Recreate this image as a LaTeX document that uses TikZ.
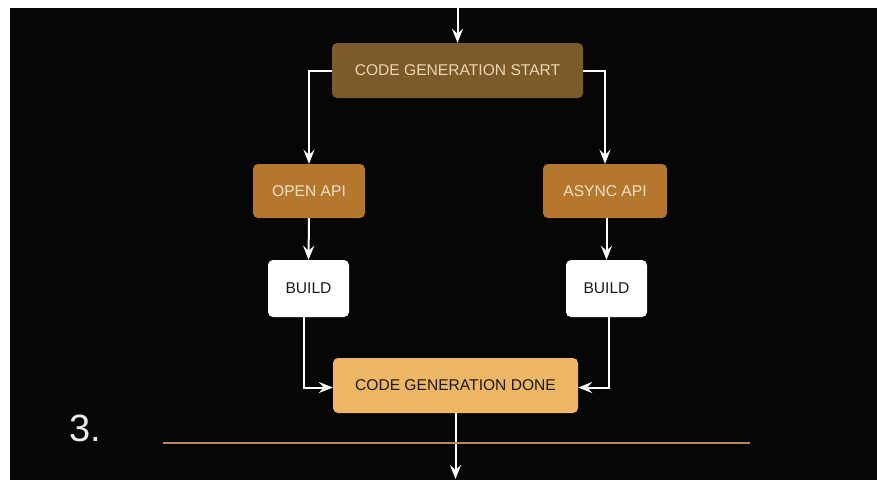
\documentclass[tikz,border=0pt]{standalone}
\usepackage{fontspec}
\setmainfont{Liberation Sans}
\usetikzlibrary{arrows.meta}
\definecolor{bgblack}{HTML}{060606}
\definecolor{startbrown}{HTML}{7D5A2A}
\definecolor{apibrown}{HTML}{B5772E}
\definecolor{donegold}{HTML}{EDB665}
\definecolor{starttext}{HTML}{EAD7B5}
\definecolor{apitext}{HTML}{F2E2C4}
\definecolor{darktext}{HTML}{1A1A1A}
\definecolor{ruletan}{HTML}{B8895A}
\begin{document}
\begin{tikzpicture}[x=1pt,y=-1pt,
  box/.style={rounded corners=5pt, inner sep=0pt, font=\fontsize{15.6}{18}\selectfont},
  startbox/.style={box, fill=startbrown, text=starttext},
  apibox/.style={box, fill=apibrown, text=apitext},
  buildbox/.style={box, fill=white, text=darktext},
  donebox/.style={box, fill=donegold, text=darktext},
  conn/.style={draw=white, line width=2pt},
  arr/.style={conn, -{Stealth[length=14pt,width=11pt,inset=5pt]}}
]
\useasboundingbox (0,0) rectangle (877,480);
\fill[white] (0,0) rectangle (877,480);
\fill[bgblack] (10,8) rectangle (877,480);

\node[startbox, minimum width=251pt, minimum height=55pt] (start) at (457.5,70.5) {CODE GENERATION START};
\node[apibox, minimum width=112pt, minimum height=54pt] (openapi) at (309,191) {OPEN API};
\node[apibox, minimum width=124pt, minimum height=54pt] (asyncapi) at (605,191) {ASYNC API};
\node[buildbox, minimum width=81pt, minimum height=57pt] (buildL) at (308.5,288.5) {BUILD};
\node[buildbox, minimum width=81pt, minimum height=57pt] (buildR) at (606.5,288.5) {BUILD};
\node[donebox, minimum width=245pt, minimum height=55pt] (done) at (455.5,385.5) {CODE GENERATION DONE};

\coordinate (topin) at (457.5,0);
\coordinate (botout) at (455.5,479);
\coordinate (ruleL) at (163,443);
\coordinate (ruleR) at (750,443);

\draw[arr] (topin) -- (start.north);
\draw[arr] (start.west) -| (openapi.north);
\draw[arr] (start.east) -| (asyncapi.north);
\draw[arr] (openapi.south) -- (buildL.north);
\draw[arr] (asyncapi.south -| buildR.north) -- (buildR.north);
\draw[arr] ([xshift=-5pt]buildL.south) |- ([yshift=-2pt]done.west);
\draw[arr] ([xshift=2pt]buildR.south) |- ([yshift=-2pt]done.east);
\draw[arr] (done.south) -- (botout);

\draw[draw=ruletan, line width=2pt] (ruleL) -- (ruleR);

\node[text=white!92!black, font=\fontsize{38}{40}\selectfont, inner sep=0pt] (num) at (85,428) {3.};
\end{tikzpicture}
\end{document}
